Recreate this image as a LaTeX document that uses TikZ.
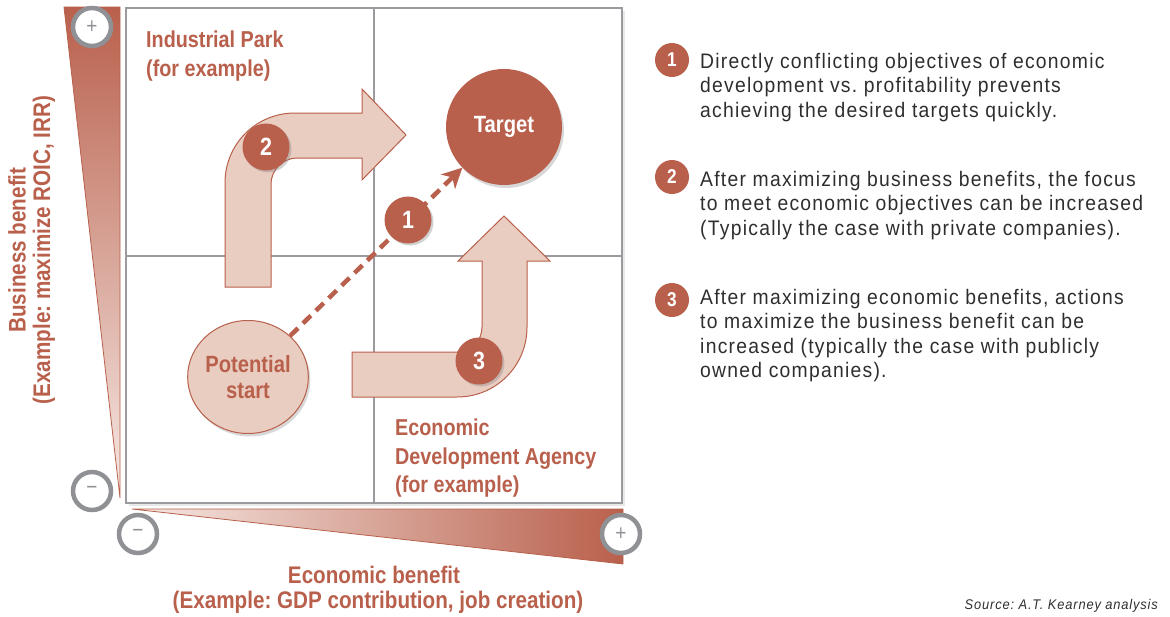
\documentclass[tikz,border=0pt]{standalone}
\usepackage{fontspec}
\setmainfont{Liberation Sans}[FakeStretch=0.86]
\newfontfamily\bodyfont{Liberation Sans}[FakeStretch=0.92, LetterSpace=6]
\usetikzlibrary{shadows,arrows.meta,shapes.geometric}
\frenchspacing
\definecolor{rust}{HTML}{B9604C}
\definecolor{pale}{HTML}{EACDC1}
\definecolor{ringc}{HTML}{8F9195}
\definecolor{gridc}{HTML}{9B9B9F}
\definecolor{bodyc}{HTML}{2E2E2E}
\definecolor{lightend}{HTML}{F6E9E4}
\tikzset{
  badge/.style={circle, fill=rust, text=white, font=\bfseries\fontsize{25}{25}\selectfont, minimum size=47pt, inner sep=0pt, drop shadow={opacity=0.35, shadow xshift=2pt, shadow yshift=-2pt}},
  smallbadge/.style={circle, fill=rust, text=white, font=\bfseries\fontsize{20}{20}\selectfont, minimum size=34pt, inner sep=0pt},
  pm/.style={circle, draw=ringc, line width=4.5pt, fill=white, minimum size=38pt, inner sep=0pt, text=ringc, font=\fontsize{22}{22}\selectfont, drop shadow={opacity=0.25, shadow xshift=2pt, shadow yshift=-2pt}},
  quadlabel/.style={text=rust, font=\bfseries\fontsize{23}{28.5}\selectfont, align=left, inner sep=0pt, anchor=north west},
  axislabel/.style={text=rust, font=\bfseries\fontsize{24}{24}\selectfont, inner sep=0pt},
  flow/.style={fill=pale, draw=rust, line width=1pt},
  bodytext/.style={text=bodyc, font=\bodyfont\fontsize{21}{24.5}\selectfont, align=left, inner sep=0pt, anchor=north west},
}
\begin{document}
\frenchspacing
\begin{tikzpicture}[x=1pt,y=-1pt]
\useasboundingbox (0,0) rectangle (1170,616);
% axis triangles
\shade[top color=rust, bottom color=lightend] (64,7) -- (120,7) -- (120,498) -- cycle;
\draw[rust, line width=0.8pt] (64,7) -- (120,7) -- (120,498) -- cycle;
\shade[left color=lightend, right color=rust] (132,509) -- (623,509) -- (623,564) -- cycle;
\draw[rust, line width=0.8pt] (132,509) -- (623,509) -- (623,564) -- cycle;
% quadrant box
\draw[gridc, line width=1.6pt, fill=white, drop shadow={opacity=0.18, shadow xshift=3pt, shadow yshift=-3pt}] (126,8) rectangle (622,503);
\draw[gridc, line width=1.6pt] (374,8) -- (374,503);
\draw[gridc, line width=1.6pt] (126,256) -- (622,256);
% plus/minus markers
\node[pm] (plusy) at (92,27) {+};
\node[pm] (minusy) at (92,491) {\raisebox{1pt}{−}};
\node[pm] (minusx) at (138,534) {\raisebox{1pt}{−}};
\node[pm] (plusx) at (621,534) {+};
% quadrant labels
\node[quadlabel] (ind) at (146,31) {Industrial Park\\(for example)};
\node[quadlabel] (eda) at (395,419) {Economic\\Development Agency\\(for example)};
% arrow 2
\draw[flow] (225,287) -- (225,183) .. controls (225,144) and (256,113) .. (295,113)
  -- (362,113) -- (362,89) -- (406,135) -- (362,180) -- (362,158) -- (297,158)
  .. controls (283,158) and (271,170) .. (271,184) -- (271,287) -- cycle;
% arrow 3
\draw[flow] (352,352) -- (457,352) .. controls (471,352) and (482,341) .. (482,327)
  -- (482,261) -- (458,261) -- (504,216) -- (550,261) -- (527,261) -- (527,327)
  .. controls (527,366) and (496,397) .. (457,397) -- (352,397) -- cycle;
% start and target
\node[ellipse, fill=pale, draw=rust, line width=1pt, minimum width=120pt, minimum height=113pt, inner sep=0pt,
  text=rust, font=\bfseries\fontsize{23.5}{26.5}\selectfont, align=center,
  drop shadow={opacity=0.3, shadow xshift=2pt, shadow yshift=-3pt}] (ps) at (248,377) {Potential\\start};
\node[circle, fill=rust, minimum size=116pt, inner sep=0pt, text=white, font=\bfseries\fontsize{23.5}{23.5}\selectfont,
  drop shadow={opacity=0.3, shadow xshift=2pt, shadow yshift=-3pt}] (tg) at (504,127) {Target};
\draw[rust, line width=4.5pt, dash pattern=on 11pt off 7pt, -{Stealth[length=20pt, width=20pt, inset=6pt]}] (ps) -- (tg);
% badges
\node[badge] (b1) at (408,220) {1};
\node[badge] (b2) at (266,147) {2};
\node[badge] (b3) at (479,361) {3};
% axis labels
\node[axislabel, rotate=90] (yl1) at (17,250) {Business benefit};
\node[axislabel, rotate=90] (yl2) at (44,250) {(Example: maximize ROIC, IRR)};
\node[axislabel] (xl1) at (374,575) {Economic benefit};
\node[axislabel] (xl2) at (378,602) {(Example: GDP contribution, job creation)};
% legend
\node[smallbadge] (n1) at (672,60) {1};
\node[bodytext] (t1) at (700,53) {Directly conflicting objectives of economic\\development vs. profitability prevents\\achieving the desired targets quickly.};
\node[smallbadge] (n2) at (672,177) {2};
\node[bodytext] (t2) at (700,171) {After maximizing business benefits, the focus\\to meet economic objectives can be increased\\(Typically the case with private companies).};
\node[smallbadge] (n3) at (672,300) {3};
\node[bodytext] (t3) at (700,289) {After maximizing economic benefits, actions\\to maximize the business benefit can be\\increased (typically the case with publicly\\owned companies).};
\node[text=bodyc, font=\bodyfont\itshape\fontsize{14}{14}\selectfont, anchor=base east, inner sep=0pt] (src) at (1158,609) {Source: A.T. Kearney analysis};
\end{tikzpicture}
\end{document}
